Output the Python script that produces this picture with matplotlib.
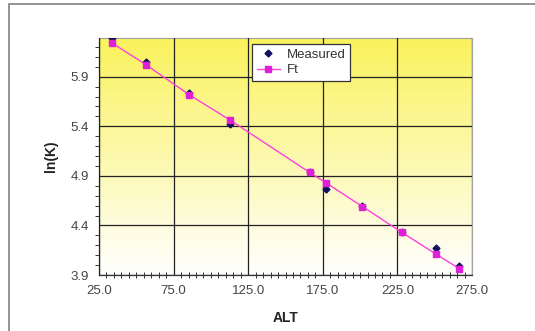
import matplotlib
matplotlib.use("Agg")
import matplotlib.pyplot as plt
import numpy as np
from matplotlib.patches import Rectangle
from matplotlib.ticker import MultipleLocator, FormatStrFormatter

alt = [33.7, 56.6, 85.2, 113.1, 166.1, 177.1, 201.6, 227.9, 251.0, 266.3]
measured = [6.29, 6.05, 5.74, 5.42, 4.94, 4.77, 4.60, 4.33, 4.17, 3.99]
fit = [6.24, 6.02, 5.72, 5.46, 4.935, 4.83, 4.59, 4.33, 4.11, 3.965]
xticks = [25.0, 75.0, 125.0, 175.0, 225.0, 275.0]
yticks = [3.9, 4.4, 4.9, 5.4, 5.9]

plt.rcParams['font.family'] = ['Liberation Sans', 'DejaVu Sans']

fig = plt.figure(figsize=(5.35, 3.31), dpi=100)
fig.patches.append(Rectangle((9/535, -0.1), 1.2, 1 - 4/331 + 0.1, transform=fig.transFigure,
                             fill=False, edgecolor='#808080', linewidth=1.2))

ax = fig.add_axes([99/535, 56/331, 373/535, 237/331])
ax.set_xlim(25, 275)
ax.set_ylim(3.9, 6.29)

# gradient background
grad = np.linspace(0, 1, 256).reshape(-1, 1)
top = np.array([0.98, 0.95, 0.36])
bot = np.array([1.0, 1.0, 1.0])
img = bot + (top - bot) * grad[..., None]
img = img.reshape(256, 1, 3)
ax.imshow(img, extent=[25, 275, 3.9, 6.29], origin='lower', aspect='auto', zorder=0)

ax.set_xticks(xticks)
ax.set_yticks(yticks)
ax.xaxis.set_major_formatter(FormatStrFormatter('%.1f'))
ax.yaxis.set_major_formatter(FormatStrFormatter('%.1f'))
ax.xaxis.set_minor_locator(MultipleLocator(5))
ax.yaxis.set_minor_locator(MultipleLocator(0.1))
ax.grid(True, which='major', color='#222222', linewidth=0.9, zorder=1)
ax.set_axisbelow(False)
ax.tick_params(which='major', length=0, labelsize=9.5, colors='#444444', pad=7)
ax.tick_params(axis='x', which='minor', direction='inout', length=4, width=0.7, color='#333333')
ax.tick_params(axis='y', which='minor', direction='out', length=3, width=0.7, color='#333333')

for s in ['top', 'right']:
    ax.spines[s].set_color('#a0a0a0')
    ax.spines[s].set_linewidth(0.8)
for s in ['left', 'bottom']:
    ax.spines[s].set_color('#333333')
    ax.spines[s].set_linewidth(0.9)

ax.plot(alt, fit, color='#ff40e0', linewidth=1.0, marker='s', markersize=5,
        markerfacecolor='#e020d8', markeredgecolor='#e020d8', label='Ft', zorder=4)
ax.plot(alt, measured, linestyle='none', marker='D', markersize=3.5,
        color='#101060', label='Measured', zorder=3)

handles, labels = ax.get_legend_handles_labels()
leg = ax.legend([handles[1], handles[0]], [labels[1], labels[0]],
                loc='upper left', bbox_to_anchor=(153/373, 1 - 6/237),
                frameon=True, fancybox=False, framealpha=1, edgecolor='#333333',
                fontsize=9.5, handlelength=1.8, borderpad=0.35, labelspacing=0.25,
                handletextpad=0.5, borderaxespad=0)
leg.get_frame().set_linewidth(0.9)
for t in leg.get_texts():
    t.set_color('#333333')

ax.set_xlabel('ALT', fontsize=10, fontweight='bold', labelpad=10, color='#222222')
ax.set_ylabel('ln(K)', fontsize=10, fontweight='bold', labelpad=9, color='#222222')

fig.savefig('out.png', dpi=100)
